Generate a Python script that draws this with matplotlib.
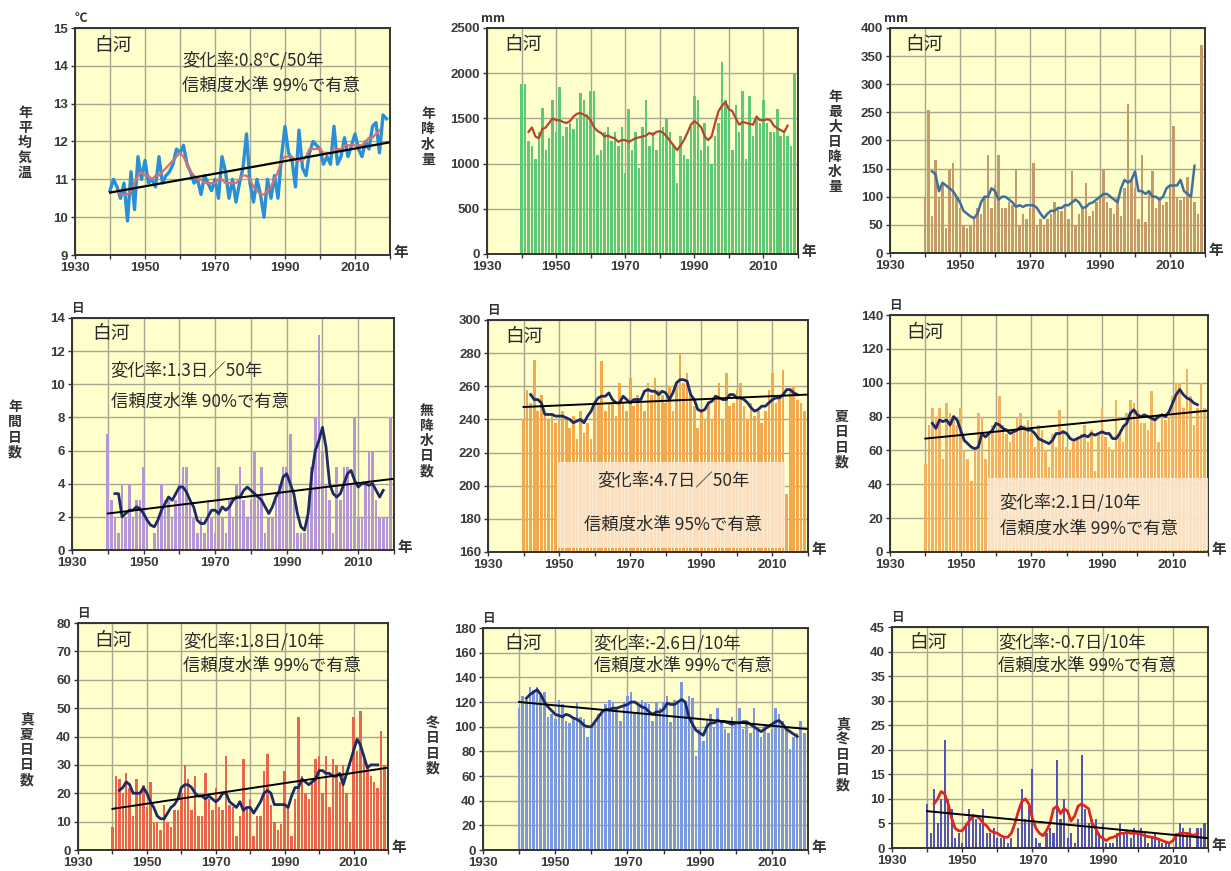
import matplotlib
matplotlib.use("Agg")
import matplotlib.pyplot as plt
from matplotlib.patches import Rectangle

plt.rcParams['font.family'] = ['Noto Sans CJK JP', 'DejaVu Sans']

W, H = 1231, 871

years = list(range(1940, 2020))
years_ma = list(range(1942, 2018))
trend_x = [1940, 2020]

# ---- Panel 1: annual mean temperature ----
temp = [10.7, 11.0, 10.8, 10.5, 10.9, 9.9, 11.2, 10.2, 11.6, 11.0,
        11.5, 10.9, 11.0, 10.8, 11.6, 10.9, 11.1, 11.2, 11.4, 11.8,
        11.7, 11.9, 11.4, 11.2, 10.9, 11.0, 10.6, 11.1, 10.9, 10.7,
        11.0, 10.5, 11.6, 11.2, 10.5, 11.0, 10.4, 10.9, 11.3, 12.2,
        10.9, 10.4, 11.0, 10.6, 10.0, 11.0, 10.5, 11.1, 10.5, 11.6,
        12.4, 11.7, 11.5, 10.8, 12.3, 11.3, 11.1, 11.7, 12.0, 11.9,
        11.8, 11.4, 11.6, 11.4, 12.4, 11.4, 11.6, 12.1, 11.6, 11.9,
        12.2, 11.8, 11.6, 12.0, 11.8, 12.4, 12.5, 11.7, 12.7, 12.6]
temp_ma = [10.7, 10.6, 10.6, 10.6, 10.7, 10.9, 11.1, 11.2,
           11.1, 11.1, 11.0, 11.1, 11.1, 11.2, 11.3, 11.4, 11.5, 11.6,
           11.7, 11.6, 11.4, 11.2, 11.1, 11.0, 11.0, 10.9, 10.9, 10.9,
           10.9, 11.0, 11.0, 10.9, 10.9, 10.9, 10.9, 11.0, 11.1, 11.1,
           11.0, 10.8, 10.7, 10.6, 10.6, 10.7, 10.8, 11.0, 11.2, 11.5,
           11.6, 11.6, 11.6, 11.5, 11.5, 11.5, 11.6, 11.8, 11.8, 11.8,
           11.8, 11.7, 11.7, 11.7, 11.8, 11.8, 11.8, 11.9, 11.9, 11.9,
           11.9, 11.9, 11.9, 12.0, 12.1, 12.1, 12.2, 12.3]
temp_trend = [10.65, 11.98]

# ---- Panel 2: annual precipitation ----
precip = [1880, 1880, 1250, 1200, 1050, 1350, 1620, 1150, 1280, 1700,
          1350, 1850, 1300, 1400, 1450, 1380, 1500, 1780, 1700, 1550,
          1800, 1800, 1100, 1150, 1350, 1400, 1250, 1350, 1200, 1400,
          900, 1600, 1150, 1350, 950, 1400, 1700, 1200, 1350, 1150,
          1350, 1400, 1500, 1350, 1200, 780, 1300, 1100, 1050, 1400,
          1750, 1700, 1150, 1450, 1200, 1000, 1300, 1450, 2120, 1700,
          1650, 1150, 1650, 1350, 1800, 1050, 1750, 1300, 1500, 1450,
          1700, 1450, 1350, 1350, 1600, 1300, 1350, 1300, 1200, 2000]
precip_ma = [1350, 1400, 1300, 1280, 1380, 1400, 1450, 1500,
             1480, 1480, 1460, 1450, 1470, 1520, 1550, 1560, 1540, 1520,
             1480, 1400, 1360, 1340, 1300, 1310, 1290, 1280, 1240, 1260,
             1260, 1240, 1260, 1280, 1290, 1300, 1310, 1340, 1320, 1350,
             1360, 1340, 1300, 1250, 1200, 1150, 1200, 1260, 1340, 1430,
             1470, 1440, 1400, 1300, 1260, 1300, 1450, 1580, 1640, 1680,
             1600, 1580, 1500, 1430, 1460, 1450, 1440, 1430, 1520, 1480,
             1480, 1490, 1480, 1420, 1390, 1370, 1350, 1420]

# ---- Panel 3: annual maximum daily precipitation ----
maxday = [100, 255, 65, 165, 100, 120, 45, 150, 160, 100,
          80, 50, 45, 50, 60, 80, 70, 100, 175, 80,
          120, 175, 80, 80, 90, 85, 150, 50, 70, 60,
          80, 160, 50, 60, 50, 60, 70, 90, 80, 75,
          85, 60, 145, 50, 70, 80, 125, 65, 75, 90,
          100, 150, 90, 80, 70, 100, 65, 115, 265, 130,
          115, 60, 175, 55, 110, 145, 80, 100, 85, 90,
          120, 225, 100, 95, 100, 135, 100, 90, 70, 370]
maxday_ma = [145, 140, 110, 125, 120, 115, 110, 100,
             90, 75, 70, 65, 62, 70, 90, 100, 100, 115,
             110, 95, 100, 100, 95, 90, 82, 85, 82, 85,
             85, 85, 80, 70, 62, 70, 75, 75, 80, 80,
             85, 85, 90, 95, 90, 80, 82, 88, 90, 95,
             100, 105, 105, 100, 95, 90, 115, 130, 125, 130,
             145, 110, 110, 105, 110, 100, 100, 95, 100, 115,
             120, 120, 120, 130, 110, 105, 100, 155]

# ---- Panel 4: annual days ----
heavy = [7, 3, 2, 1, 4, 2, 4, 2, 3, 3,
         5, 2, 0, 1, 2, 4, 3, 3, 2, 3,
         4, 5, 5, 3, 2, 1, 2, 1, 3, 2,
         1, 5, 2, 1, 3, 2, 4, 5, 3, 2,
         3, 6, 3, 5, 1, 2, 2, 3, 4, 5,
         5, 7, 3, 1, 1, 1, 2, 5, 8, 13,
         6, 4, 3, 1, 5, 3, 5, 5, 4, 8,
         2, 2, 4, 6, 6, 3, 2, 2, 2, 8]
heavy_ma = [3.4, 3.4, 2.0, 2.2, 2.4, 2.4, 2.6, 2.5,
            2.2, 1.8, 1.5, 1.4, 1.8, 2.4, 2.8, 3.2, 3.0, 3.4,
            3.8, 3.8, 3.5, 3.0, 2.6, 1.8, 1.6, 1.6, 2.0, 2.4,
            2.4, 2.2, 2.6, 2.4, 2.6, 3.0, 3.2, 3.2, 3.6, 3.8,
            3.6, 3.4, 3.2, 3.0, 2.6, 2.2, 2.6, 3.2, 3.6, 4.4,
            4.6, 4.0, 3.4, 2.2, 1.4, 1.2, 2.2, 4.6, 6.0, 6.6,
            7.4, 6.2, 4.0, 3.4, 3.2, 3.4, 4.0, 4.6, 4.8, 4.2,
            3.8, 4.0, 4.0, 3.9, 4.0, 3.6, 3.2, 3.6]
heavy_trend = [2.2, 4.3]

# ---- Panel 5: days without precipitation ----
dry = [240, 258, 250, 276, 245, 255, 242, 240, 244, 238,
       240, 245, 240, 235, 242, 228, 245, 232, 238, 228,
       248, 250, 275, 245, 250, 250, 242, 262, 250, 245,
       265, 248, 255, 250, 245, 262, 255, 265, 258, 255,
       250, 260, 245, 262, 280, 262, 268, 255, 248, 235,
       245, 240, 250, 240, 255, 262, 240, 268, 248, 250,
       258, 262, 248, 240, 250, 242, 245, 238, 245, 258,
       268, 250, 255, 270, 195, 258, 260, 252, 250, 245]
dry_ma = [255, 252, 252, 250, 243, 243, 243, 242,
          242, 242, 241, 240, 238, 239, 240, 238, 242, 245,
          250, 253, 254, 254, 256, 252, 250, 250, 254, 252,
          250, 252, 252, 252, 257, 258, 257, 257, 255, 257,
          256, 252, 256, 262, 264, 264, 263, 255, 252, 246,
          245, 246, 250, 251, 254, 253, 252, 252, 255, 255,
          253, 253, 252, 250, 247, 245, 246, 248, 248, 250,
          252, 253, 253, 255, 258, 258, 256, 255]
dry_trend = [247.5, 255.0]

# ---- Panel 6: summer days ----
summer = [52, 75, 85, 80, 85, 55, 88, 82, 80, 75,
          85, 60, 55, 42, 60, 82, 80, 55, 70, 75,
          70, 92, 75, 70, 65, 70, 80, 82, 75, 78,
          70, 62, 75, 72, 60, 50, 70, 62, 84, 72,
          62, 60, 65, 68, 70, 75, 65, 72, 48, 70,
          85, 68, 62, 60, 90, 70, 65, 82, 90, 88,
          84, 76, 76, 72, 95, 80, 65, 82, 78, 80,
          92, 100, 100, 85, 108, 92, 75, 85, 100, 85]
summer_ma = [76, 73, 78, 77, 78, 75, 80, 78,
             72, 66, 64, 62, 61, 62, 70, 68, 70, 72,
             76, 75, 73, 72, 70, 71, 72, 74, 73, 72,
             72, 70, 67, 66, 65, 64, 66, 70, 70, 71,
             70, 67, 66, 67, 68, 69, 68, 70, 69, 70,
             71, 70, 70, 67, 67, 70, 74, 76, 82, 84,
             81, 80, 81, 80, 79, 78, 80, 81, 80, 83,
             88, 93, 96, 93, 91, 90, 88, 87]
summer_trend = [67.0, 83.5]

# ---- Panel 7: midsummer days ----
hot = [8, 26, 25, 20, 27, 22, 12, 25, 20, 23,
       15, 24, 10, 10, 7, 16, 10, 8, 14, 14,
       20, 30, 25, 14, 26, 12, 12, 27, 18, 14,
       22, 15, 14, 33, 16, 15, 5, 12, 32, 15,
       18, 5, 12, 12, 28, 34, 16, 10, 7, 9,
       28, 15, 5, 18, 47, 26, 20, 18, 25, 32,
       33, 20, 33, 15, 32, 30, 24, 30, 20, 10,
       47, 35, 49, 32, 30, 26, 24, 22, 42, 30]
hot_ma = [21, 22, 24, 23, 20, 20, 20, 22,
          20, 17, 15, 12, 11, 11, 13, 15, 16, 18,
          22, 23, 23, 22, 20, 19, 19, 18, 19, 18,
          17, 18, 20, 20, 17, 16, 15, 17, 14, 15,
          15, 13, 15, 17, 20, 21, 20, 16, 16, 16,
          16, 15, 19, 22, 22, 25, 24, 23, 24, 25,
          28, 28, 27, 27, 26, 26, 27, 23, 27, 31,
          35, 39, 37, 33, 29, 30, 30, 30]
hot_trend = [14.5, 29.0]

# ---- Panel 8: winter days ----
frost = [115, 125, 122, 132, 130, 132, 125, 128, 108, 110,
         106, 122, 118, 105, 103, 108, 120, 108, 106, 92,
         100, 105, 110, 112, 118, 122, 120, 115, 105, 120,
         125, 128, 112, 118, 122, 120, 118, 105, 120, 115,
         120, 125, 104, 122, 120, 136, 120, 125, 123, 76,
         98, 88, 105, 110, 100, 115, 105, 98, 95, 108,
         102, 115, 98, 105, 95, 115, 100, 92, 102, 95,
         98, 115, 110, 105, 100, 82, 92, 95, 105, 95]
frost_ma = [123, 126, 128, 130, 126, 120, 116, 113,
            110, 109, 108, 110, 109, 107, 106, 104, 101, 100,
            100, 104, 108, 112, 114, 114, 115, 115, 116, 117,
            118, 120, 120, 118, 116, 115, 112, 110, 112, 112,
            114, 119, 118, 118, 120, 122, 120, 108, 102, 97,
            95, 93, 100, 103, 103, 105, 104, 104, 103, 102,
            103, 103, 104, 104, 102, 100, 98, 96, 98, 100,
            102, 104, 105, 102, 98, 96, 94, 92]
frost_trend = [120.0, 98.0]

# ---- Panel 9: midwinter days ----
ice = [9, 3, 12, 5, 10, 22, 10, 8, 2, 3,
       1, 5, 8, 7, 6, 5, 8, 3, 3, 4,
       2, 2, 2, 1, 2, 0, 4, 12, 6, 9,
       16, 2, 1, 0, 3, 4, 3, 18, 6, 10,
       2, 3, 1, 6, 19, 8, 5, 6, 6, 3,
       5, 1, 1, 1, 3, 5, 3, 3, 2, 4,
       3, 4, 3, 1, 2, 3, 2, 1, 1, 1,
       0, 3, 5, 4, 3, 4, 0, 4, 4, 5]
ice_ma = [9, 10, 11.5, 11, 9, 6, 4, 3.5,
          3.5, 4.5, 5.5, 6.5, 6.5, 6, 5, 4.5, 3.5, 3.2,
          3, 2.5, 2.2, 2.2, 3, 5, 7.5, 9.5, 10, 9,
          6, 4, 3, 2.5, 3.5, 5, 8, 8.5, 7, 8,
          7.5, 5.5, 6.5, 8.5, 9, 8.5, 8, 5, 4, 2.5,
          2, 1.5, 2, 2.2, 2.5, 3, 3, 3.2, 3, 3,
          3, 2.8, 2.5, 2.3, 2.2, 2, 1.8, 1.5, 1.2, 1,
          1.5, 2.5, 3, 3, 3, 2.8, 2.5, 3]
ice_trend = [7.5, 2.0]

station = "白河"
xtick_vals = [1930, 1940, 1950, 1960, 1970, 1980, 1990, 2000, 2010, 2020]
xtick_labels = ["1930", "", "1950", "", "1970", "", "1990", "", "2010", ""]

BG = '#FFFFCC'
GRID = '#A8A68C'
TXT = '#2A2A2A'
NAVY = '#1C2A66'
TICKFONT = ['Liberation Sans', 'DejaVu Sans']
TICKKW = dict(family=TICKFONT, fontweight='bold', fontsize=9.5, color='#3A3A3A')

fig = plt.figure(figsize=(W / 100, H / 100), dpi=100)


def make_ax(l, t, r, b, ylim, ystep, ylabel, unit, ylabel_xy):
    ax = fig.add_axes([l / W, 1 - b / H, (r - l) / W, (b - t) / H])
    ax.set_facecolor(BG)
    ax.set_xlim(1930, 2020)
    ax.set_ylim(*ylim)
    ax.set_xticks(xtick_vals)
    ax.set_xticklabels(xtick_labels, **TICKKW)
    yt = []
    v = ylim[0]
    while v <= ylim[1] + 1e-9:
        yt.append(v)
        v += ystep
    ax.set_yticks(yt)
    ax.set_yticklabels([f"{int(round(y))}" for y in yt], **TICKKW)
    ax.grid(True, color=GRID, lw=1.0)
    ax.set_axisbelow(True)
    for s in ax.spines.values():
        s.set_color('#333333')
        s.set_linewidth(1.4)
    ax.tick_params(length=3, width=1, color='#333333', pad=2)
    fig.text(ylabel_xy[0] / W, 1 - ylabel_xy[1] / H, "\n".join(ylabel),
             ha='center', va='center', fontsize=10, fontweight='bold',
             linespacing=1.1, color='#333333')
    ax.annotate(unit, xy=(0, 1), xycoords='axes fraction', xytext=(4, 2),
                textcoords='offset points', ha='center', va='bottom',
                fontsize=9, fontweight='bold', color='#333333')
    ax.annotate('年', xy=(1, 0), xycoords='axes fraction', xytext=(8, 2),
                textcoords='offset points', ha='center', va='center',
                fontsize=10.5, fontweight='bold', color='#333333')
    return ax


def station_label(ax, x, y):
    ax.text(x, y, station, transform=ax.transAxes, fontsize=13.5,
            ha='left', va='center', color=TXT, zorder=7)


def note(ax, x, y, s, ha='left', transform=None):
    ax.text(x, y, s, transform=transform if transform is not None else ax.transAxes,
            fontsize=12.5, ha=ha, va='center', color=TXT, zorder=7)


# Panel 1
ax1 = make_ax(75, 28, 390, 255, (9, 15), 1, "年平均気温", "℃", (25, 143))
ax1.plot(years, temp, color='#2A8FD6', lw=2.4, zorder=3)
ax1.plot(years_ma, temp_ma, color='#D87070', lw=1.6, zorder=4)
ax1.plot(trend_x, temp_trend, color='black', lw=1.6, zorder=5)
station_label(ax1, 0.062, 0.925)
note(ax1, 0.34, 0.86, "変化率:0.8℃/50年")
note(ax1, 0.34, 0.745, "信頼度水準 99%で有意")

# Panel 2
ax2 = make_ax(487, 28, 798, 254, (0, 2500), 500, "年降水量", "mm", (428, 137))
ax2.bar(years, precip, width=0.72, color='#5DC878', zorder=2)
ax2.plot(years_ma, precip_ma, color='#B8442A', lw=1.6, zorder=4)
station_label(ax2, 0.055, 0.925)

# Panel 3
ax3 = make_ax(890, 28, 1205, 253, (0, 400), 50, "年最大日降水量", "mm", (835, 142))
ax3.bar(years, maxday, width=0.6, color='#C49A68', zorder=2)
ax3.plot(years_ma, maxday_ma, color='#3F6F9A', lw=1.8, zorder=4)
station_label(ax3, 0.05, 0.925)

# Panel 4
ax4 = make_ax(72, 318, 394, 550, (0, 14), 2, "年間日数", "日", (15, 430))
ax4.bar(years, heavy, width=0.72, color='#B596D6', zorder=2)
ax4.plot(years_ma, heavy_ma, color=NAVY, lw=2.0, zorder=4)
ax4.plot(trend_x, heavy_trend, color='black', lw=1.4, zorder=5)
station_label(ax4, 0.062, 0.935)
note(ax4, 0.12, 0.776, "変化率:1.3日／50年")
note(ax4, 0.12, 0.638, "信頼度水準 90%で有意")

# Panel 5
ax5 = make_ax(488, 320, 808, 552, (160, 300), 20, "無降水日数", "日", (427, 441))
ax5.bar(years, dry, width=0.72, color='#F2A84E', zorder=2)
ax5.plot(years_ma, dry_ma, color=NAVY, lw=2.0, zorder=4)
ax5.plot(trend_x, dry_trend, color='black', lw=1.4, zorder=5)
ax5.add_patch(Rectangle((1949.4, 162.4), 64.1, 51.9, facecolor='#FCEAD6',
                        edgecolor='none', alpha=0.85, zorder=6))
station_label(ax5, 0.055, 0.927)
note(ax5, 1982, 203.4, "変化率:4.7日／50年", ha='center', transform=ax5.transData)
note(ax5, 1982, 176.3, "信頼度水準 95%で有意", ha='center', transform=ax5.transData)

# Panel 6
ax6 = make_ax(890, 315, 1208, 552, (0, 140), 20, "夏日日数", "日", (842, 440))
ax6.bar(years, summer, width=0.72, color='#F2B060', zorder=2)
ax6.plot(years_ma, summer_ma, color=NAVY, lw=2.0, zorder=4)
ax6.plot(trend_x, summer_trend, color='black', lw=1.4, zorder=5)
ax6.add_patch(Rectangle((1957.7, 1.0), 62.3, 42.7, facecolor='#FCEAD6',
                        edgecolor='none', alpha=0.85, zorder=6))
station_label(ax6, 0.05, 0.928)
note(ax6, 1961, 29.5, "変化率:2.1日/10年", transform=ax6.transData)
note(ax6, 1961, 13.6, "信頼度水準 99%で有意", transform=ax6.transData)

# Panel 7
ax7 = make_ax(78, 623, 388, 850, (0, 80), 10, "真夏日日数", "日", (27, 750))
ax7.bar(years, hot, width=0.72, color='#E8644C', zorder=2)
ax7.plot(years_ma, hot_ma, color=NAVY, lw=2.0, zorder=4)
ax7.plot(trend_x, hot_trend, color='black', lw=1.4, zorder=5)
station_label(ax7, 0.052, 0.925)
note(ax7, 0.34, 0.92, "変化率:1.8日/10年")
note(ax7, 0.34, 0.81, "信頼度水準 99%で有意")

# Panel 8
ax8 = make_ax(483, 628, 808, 850, (0, 180), 20, "冬日日数", "日", (433, 746))
ax8.bar(years, frost, width=0.72, color='#7B98E0', zorder=2)
ax8.plot(years_ma, frost_ma, color=NAVY, lw=2.0, zorder=4)
ax8.plot(trend_x, frost_trend, color='black', lw=1.4, zorder=5)
station_label(ax8, 0.065, 0.932)
note(ax8, 0.34, 0.932, "変化率:-2.6日/10年")
note(ax8, 0.34, 0.83, "信頼度水準 99%で有意")

# Panel 9
ax9 = make_ax(892, 627, 1208, 848, (0, 45), 5, "真冬日日数", "日", (843, 755))
ax9.bar(years, ice, width=0.6, color='#5454B4', zorder=2)
ax9.plot(years_ma, ice_ma, color='#E02424', lw=2.0, zorder=4)
ax9.plot(trend_x, ice_trend, color='black', lw=1.4, zorder=5)
station_label(ax9, 0.054, 0.932)
note(ax9, 0.335, 0.932, "変化率:-0.7日/10年")
note(ax9, 0.335, 0.823, "信頼度水準 99%で有意")

fig.savefig("out.png", dpi=100, facecolor='white')
